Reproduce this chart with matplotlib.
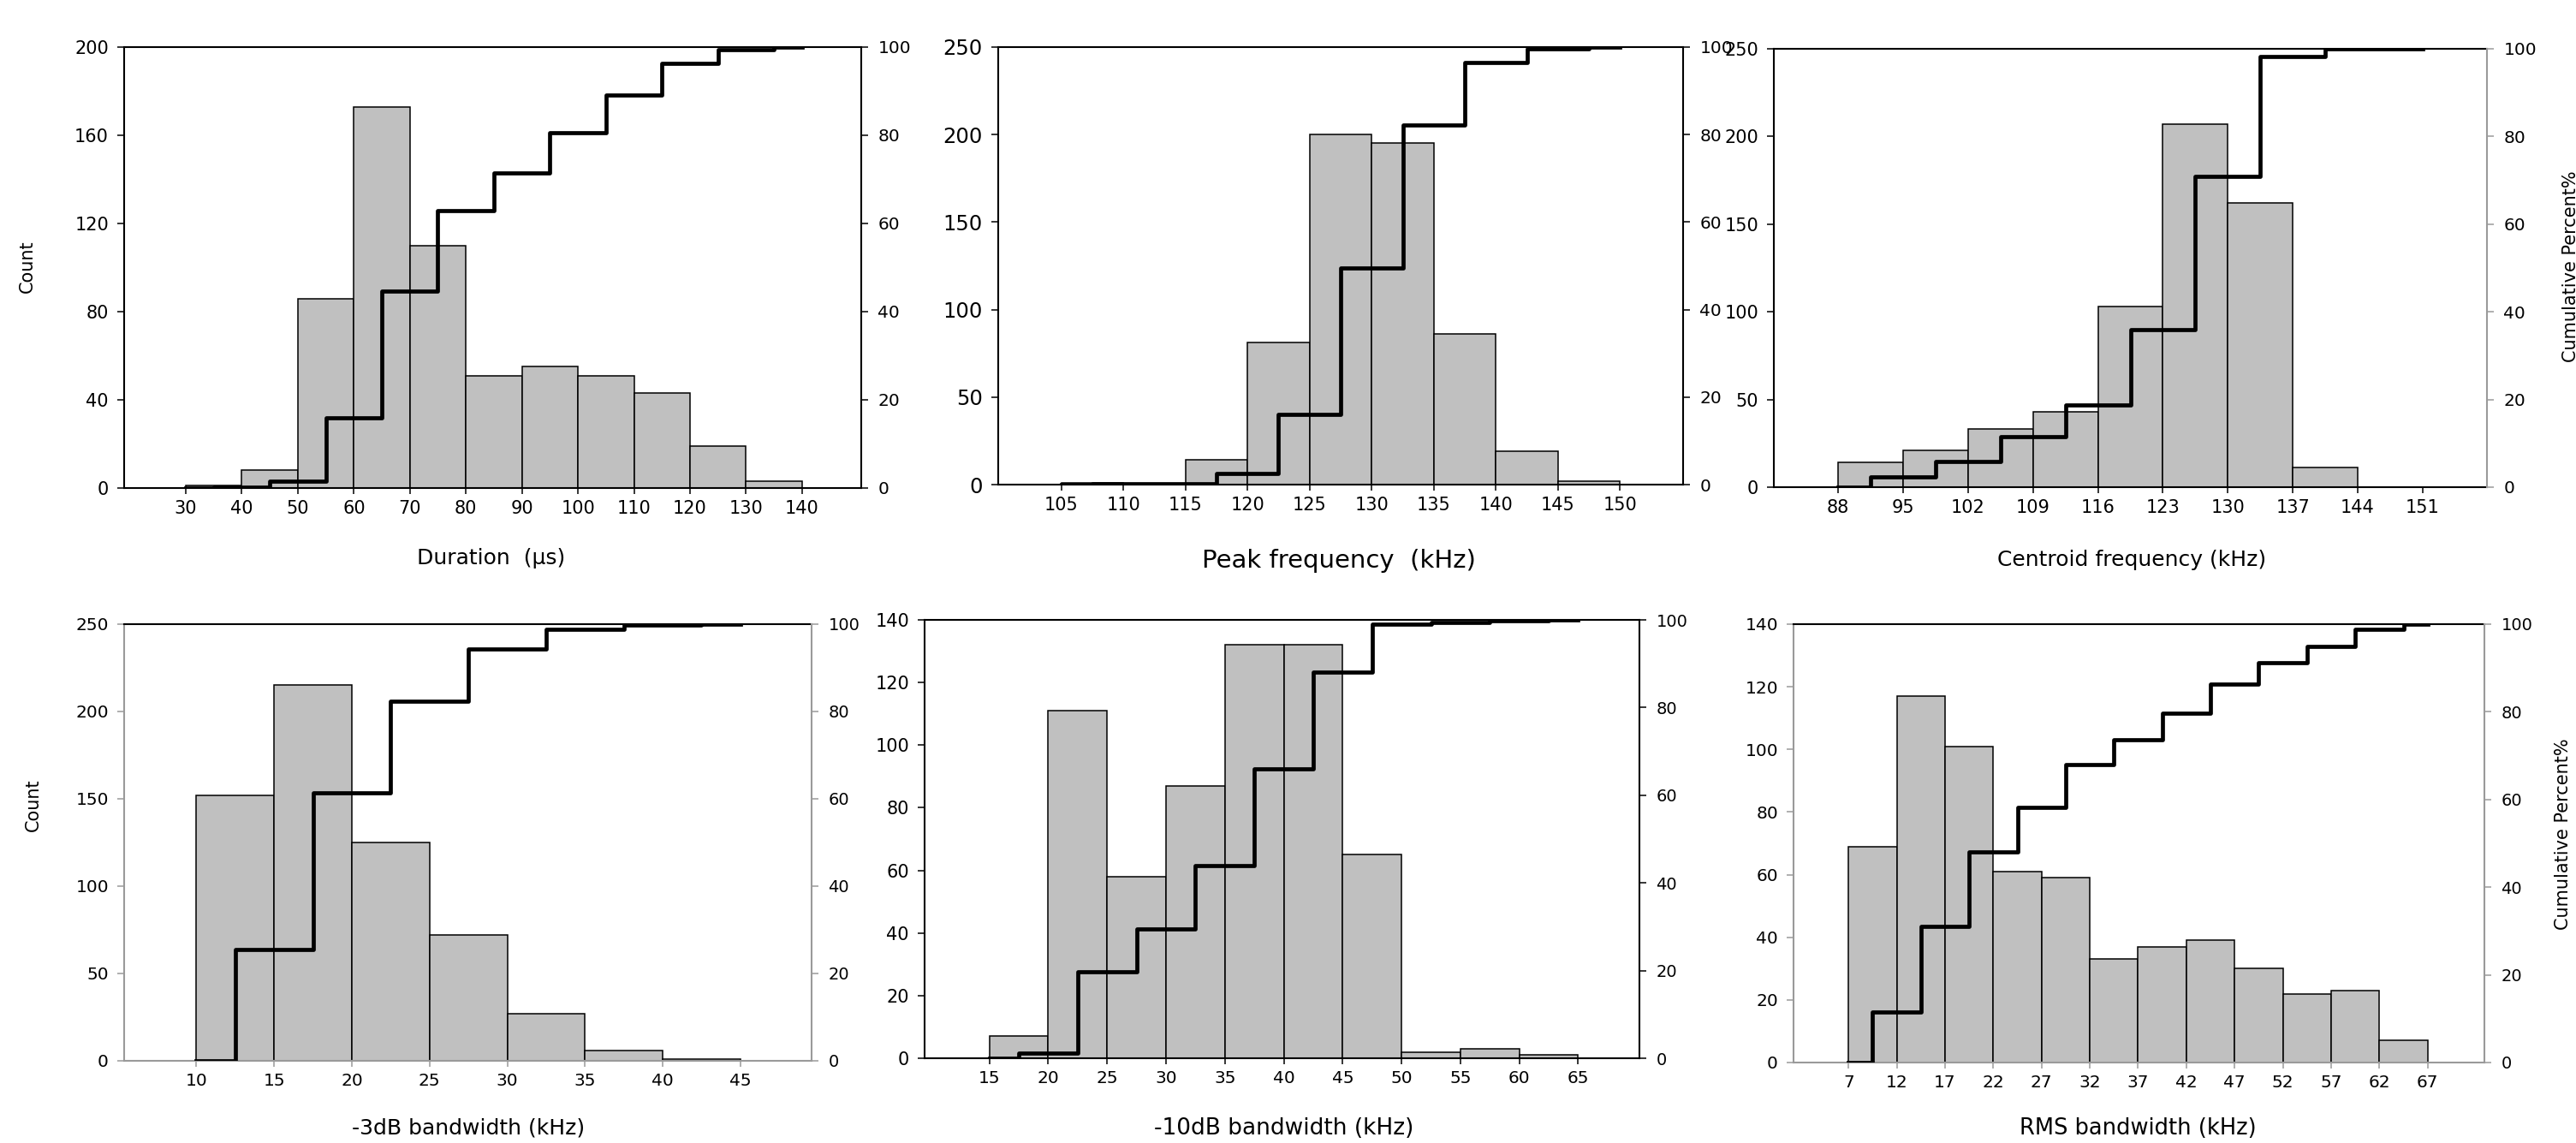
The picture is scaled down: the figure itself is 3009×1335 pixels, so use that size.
import numpy as np
import matplotlib
matplotlib.use("Agg")
import matplotlib.pyplot as plt

W, H, DPI = 3009, 1335, 100
plt.rcParams['font.family'] = ['DejaVu Sans']

# ---------------- data ----------------
dur_edges = [30, 40, 50, 60, 70, 80, 90, 100, 110, 120, 130, 140]
dur_counts = [1, 8, 86, 173, 110, 51, 55, 51, 43, 19, 3]

peak_edges = [105, 110, 115, 120, 125, 130, 135, 140, 145, 150]
peak_counts = [1, 0, 14, 81, 200, 195, 86, 19, 2]

cent_edges = [88, 95, 102, 109, 116, 123, 130, 137, 144, 151]
cent_counts = [14, 21, 33, 43, 103, 207, 162, 11, 0]

bw3_edges = [10, 15, 20, 25, 30, 35, 40, 45]
bw3_counts = [152, 215, 125, 72, 27, 6, 1]

bw10_edges = [15, 20, 25, 30, 35, 40, 45, 50, 55, 60, 65]
bw10_counts = [7, 111, 58, 87, 132, 132, 65, 2, 3, 1]

rms_edges = [7, 12, 17, 22, 27, 32, 37, 42, 47, 52, 57, 62, 67]
rms_counts = [69, 117, 101, 61, 59, 33, 37, 39, 30, 22, 23, 7]

count_ticks_200 = [0, 40, 80, 120, 160, 200]
count_ticks_250 = [0, 50, 100, 150, 200, 250]
count_ticks_140 = [0, 20, 40, 60, 80, 100, 120, 140]
pct_ticks = [0, 20, 40, 60, 80, 100]

# ---------------- layout (pixels: left, right, top, bottom) ----------------
panels = [
    dict(box=(145, 1006, 55, 570), edges=dur_edges, counts=dur_counts, yt=count_ticks_200,
         pad=(0.10, 0.096), xl="Duration  (\u00b5s)", xlpos=(574, 652), xlsize=18,
         tsize=15, ltsize=15, gray=()),
    dict(box=(1166, 1966, 55, 566), edges=peak_edges, counts=peak_counts, yt=count_ticks_250,
         pad=(0.113, 0.113), xl="Peak frequency  (kHz)", xlpos=(1564, 655), xlsize=21,
         tsize=15, ltsize=17.5, gray=()),
    dict(box=(2072, 2905, 57, 569), edges=cent_edges, counts=cent_counts, yt=count_ticks_250,
         pad=(0.11, 0.11), xl="Centroid frequency (kHz)", xlpos=(2490, 654), xlsize=18,
         tsize=15, ltsize=15, gray=('right',)),
    dict(box=(145, 948, 729, 1239), edges=bw3_edges, counts=bw3_counts, yt=count_ticks_250,
         pad=(0.133, 0.131), xl="-3dB bandwidth (kHz)", xlpos=(547, 1318), xlsize=18,
         tsize=14.5, ltsize=14.5, gray=('left', 'right', 'bottom')),
    dict(box=(1080, 1915, 724, 1236), edges=bw10_edges, counts=bw10_counts, yt=count_ticks_140,
         pad=(0.11, 0.104), xl="-10dB bandwidth (kHz)", xlpos=(1500, 1318), xlsize=19,
         tsize=14.5, ltsize=15, gray=()),
    dict(box=(2095, 2902, 729, 1241), edges=rms_edges, counts=rms_counts, yt=count_ticks_140,
         pad=(0.095, 0.098), xl="RMS bandwidth (kHz)", xlpos=(2497, 1318), xlsize=18.5,
         tsize=14.5, ltsize=14.5, gray=('left', 'right', 'bottom')),
]

GRAY = '#9a9a9a'
fig = plt.figure(figsize=(W / DPI, H / DPI), dpi=DPI)

for p in panels:
    L, R, T, B = p['box']
    ax = fig.add_axes([L / W, 1 - B / H, (R - L) / W, (B - T) / H])
    edges = np.array(p['edges'], dtype=float)
    counts = np.array(p['counts'], dtype=float)
    ax.bar(edges[:-1], counts, width=np.diff(edges), align='edge',
           color='#c0c0c0', edgecolor='black', linewidth=1.1, zorder=2)
    yt = p['yt']
    ax.set_ylim(0, yt[-1])
    ax.set_yticks(yt)
    span = edges[-1] - edges[0]
    ax.set_xlim(edges[0] - p['pad'][0] * span, edges[-1] + p['pad'][1] * span)
    ax.set_xticks(edges)
    ax.set_xticklabels([str(int(e)) for e in edges])
    ax.tick_params(axis='x', direction='out', length=5, width=1.1, pad=5,
                   labelsize=p['tsize'])
    ax.tick_params(axis='y', direction='out', length=6, width=1.1, pad=7,
                   labelsize=p['ltsize'])
    ax.spines['right'].set_visible(False)
    for s in ('left', 'top', 'bottom'):
        ax.spines[s].set_linewidth(1.5)
        ax.spines[s].set_color(GRAY if s in p['gray'] else 'black')
    if 'left' in p['gray']:
        ax.tick_params(axis='y', color=GRAY)
    if 'bottom' in p['gray']:
        ax.tick_params(axis='x', color=GRAY)

    ax2 = ax.twinx()
    ax2.set_ylim(0, 100)
    ax2.set_yticks(pct_ticks)
    for s in ('left', 'top', 'bottom'):
        ax2.spines[s].set_visible(False)
    ax2.spines['right'].set_linewidth(1.5)
    rc = GRAY if 'right' in p['gray'] else 'black'
    ax2.spines['right'].set_color(rc)
    ax2.tick_params(axis='y', direction='out', length=6, width=1.1, pad=8,
                    labelsize=p['tsize'] - 0.5, color=rc)

    cum = np.cumsum(counts) / counts.sum() * 100
    centers = (edges[:-1] + edges[1:]) / 2
    x = np.concatenate([[edges[0]], centers, [edges[-1]]])
    y = np.concatenate([[0], cum, [cum[-1]]])
    ax2.plot(x, y, drawstyle='steps-post', color='black', lw=3.4, zorder=3)

    fig.text(p['xlpos'][0] / W, 1 - p['xlpos'][1] / H, p['xl'],
             ha='center', va='center', fontsize=p['xlsize'])

# axis titles
fig.text(32 / W, 1 - 311 / H, 'Count', rotation=90, ha='center', va='center', fontsize=15)
fig.text(39 / W, 1 - 940 / H, 'Count', rotation=90, ha='center', va='center', fontsize=15)
fig.text(3003 / W, 1 - 311 / H, 'Cumulative Percent%', rotation=90, ha='center',
         va='center', fontsize=15)
fig.text(2994 / W, 1 - 974 / H, 'Cumulative Percent%', rotation=90, ha='center',
         va='center', fontsize=15)

fig.savefig('out.png', dpi=DPI)
